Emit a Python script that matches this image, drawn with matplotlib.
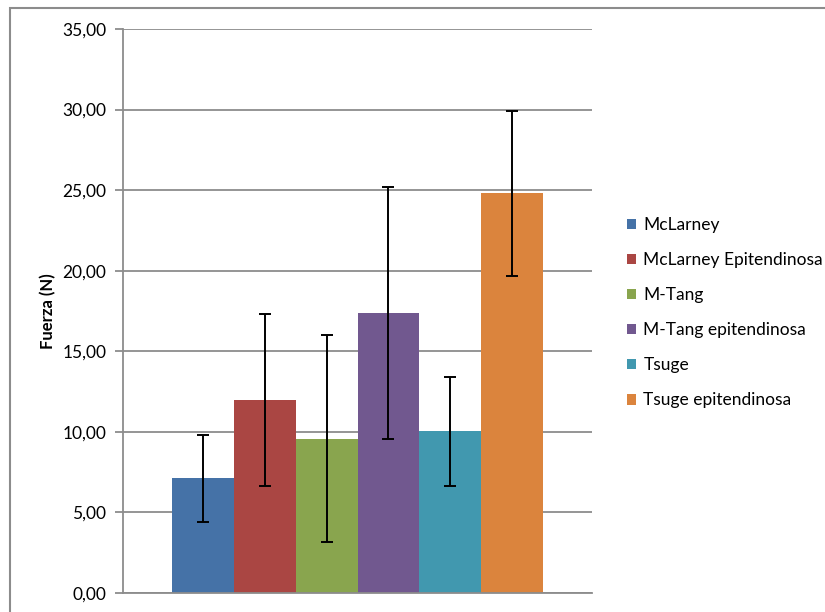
import matplotlib
matplotlib.use("Agg")
import matplotlib.pyplot as plt
from matplotlib.patches import Rectangle, Patch
from matplotlib.ticker import FuncFormatter
import numpy as np

series = ["McLarney", "McLarney Epitendinosa", "M-Tang", "M-Tang epitendinosa",
          "Tsuge", "Tsuge epitendinosa"]
means = [7.12, 11.98, 9.58, 17.38, 10.05, 24.82]
errors = [2.70, 5.33, 6.43, 7.83, 3.38, 5.12]
colors = ["#4572A7", "#AA4643", "#89A54E", "#71588F", "#4198AF", "#DB843D"]
yticks = [0, 5, 10, 15, 20, 25, 30, 35]

plt.rcParams["font.family"] = ["Lato", "DejaVu Sans"]

fig = plt.figure(figsize=(8.25, 6.12), dpi=100)
# outer chart-area border (cropped at right/bottom)
fig.patches.append(Rectangle((10 / 825, -0.1), 1.2, 1 - 8 / 612 + 0.1,
                             transform=fig.transFigure, fill=False,
                             edgecolor="#8c8c8c", linewidth=1.5))
ax = fig.add_axes([123 / 825, 1 - 593 / 612, 469 / 825, 564 / 612])

n = len(series)
width = 0.791 / n
x = -0.791 / 2 + width * (np.arange(n) + 0.5)
for xi, m, e, c in zip(x, means, errors, colors):
    ax.bar(xi, m, width=width, color=c, zorder=2)
    ax.errorbar(xi, m, yerr=e, color="black", linewidth=1.4, capsize=4,
                capthick=1.4, zorder=3)

ax.set_xlim(-0.5, 0.5)
ax.set_ylim(0, 35)
ax.set_yticks(yticks)
ax.yaxis.set_major_formatter(FuncFormatter(lambda v, p: f"{v:.2f}".replace(".", ",")))
ax.set_xticks([])
ax.grid(axis="y", color="#8c8c8c", linewidth=1.3, zorder=0)
for s in ["top", "right"]:
    ax.spines[s].set_visible(False)
for s in ["left", "bottom"]:
    ax.spines[s].set_color("#8c8c8c")
    ax.spines[s].set_linewidth(1.3)
ax.tick_params(axis="y", length=6, color="#8c8c8c", width=1.3, labelsize=12.5, pad=6)
ax.set_ylabel("Fuerza (N)", fontsize=12, fontweight="bold", labelpad=4)

handles = [Patch(facecolor=c, label=s) for s, c in zip(series, colors)]
fig.legend(handles=handles, loc="upper left", bbox_to_anchor=(620 / 825, 1 - 210 / 612),
           frameon=False, fontsize=12.5, handlelength=0.55, handleheight=0.55,
           handletextpad=0.4, labelspacing=1.1, borderaxespad=0)

fig.savefig("out.png", dpi=100)
